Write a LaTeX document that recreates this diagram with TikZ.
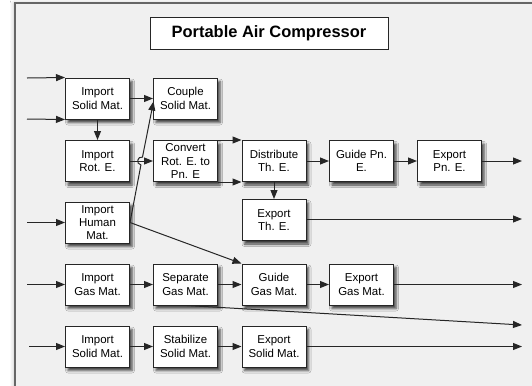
\documentclass[tikz,border=0pt]{standalone}
\usepackage{fontspec}
\setmainfont{Liberation Sans}
\usetikzlibrary{arrows.meta,calc,shadows.blur}
\begin{document}
\begin{tikzpicture}[x=1bp,y=-1bp,
  fbox/.style={draw=black!85,line width=1bp,fill=white,minimum width=64bp,minimum height=41bp,
    inner sep=0pt,align=center,font=\fontsize{11.5}{13.3}\selectfont,
    blur shadow={shadow xshift=2.5bp,shadow yshift=-3.5bp,shadow blur radius=2.5bp,shadow opacity=75}},
  titlebox/.style={draw=black!85,line width=1bp,fill=white,minimum width=238bp,minimum height=32bp,
    inner sep=0pt,font=\fontsize{16.5}{20}\selectfont\bfseries},
  arr/.style={draw=black!85,line width=1bp,-{Triangle[length=9bp,width=7bp]}},
]
\useasboundingbox (0,0) rectangle (532,385);
\fill[white] (0,0) rectangle (532,385);
\begin{scope}
\clip (0,0) rectangle (532,385);
\draw[draw=black!60,line width=1.5bp,fill=black!6,
  blur shadow={shadow xshift=-1bp,shadow yshift=0bp,shadow blur radius=4bp,shadow opacity=25}]
  (15,3) rectangle (545,400);
\end{scope}

\node[titlebox] (title) at (269,33) {Portable Air Compressor};

\node[fbox] (is1) at (97.5,98.5) {Import\\Solid Mat.};
\node[fbox] (cs) at (185.5,98.5) {Couple\\Solid Mat.};
\node[fbox] (ir) at (97.5,161) {Import\\Rot. E.};
\node[fbox] (cv) at (185.5,161) {Convert\\Rot. E. to\\Pn. E};
\node[fbox] (dt) at (274,161) {Distribute\\Th. E.};
\node[fbox] (gp) at (361.5,161) {Guide Pn.\\E.};
\node[fbox] (ep) at (449.5,161) {Export\\Pn. E.};
\node[fbox] (et) at (274,220) {Export\\Th. E.};
\node[fbox] (hm) at (97.5,222.5) {Import\\Human\\Mat.};
\node[fbox] (ig) at (97.5,284.5) {Import\\Gas Mat.};
\node[fbox] (sg) at (185.5,284.5) {Separate\\Gas Mat.};
\node[fbox] (gg) at (274,284.5) {Guide\\Gas Mat.};
\node[fbox] (eg) at (361.5,284.5) {Export\\Gas Mat.};
\node[fbox] (is2) at (97.5,346.5) {Import\\Solid Mat.};
\node[fbox] (st) at (185.5,346.5) {Stabilize\\Solid Mat.};
\node[fbox] (es) at (274,346.5) {Export\\Solid Mat.};

% free ends
\coordinate (in1) at (27,78);
\coordinate (in2) at (27,119);
\coordinate (in3) at (27,222.5);
\coordinate (in4) at (27,284.5);
\coordinate (in5) at (29,346.5);
\coordinate (out1) at (522,161);
\coordinate (out2) at (522,219);
\coordinate (out3) at (522,284.5);
\coordinate (out4) at (522,325);
\coordinate (out5) at (522,346.5);
\coordinate (cstip) at (153.5,101.5);
\coordinate (h1) at (140.92,164.92);
\coordinate (h2) at (142.48,157.08);

% inputs
\draw[arr] (in1) -- (is1.north west);
\draw[arr] (in2) -- (is1.south west);
\draw[arr] (in3) -- (hm.west);
\draw[arr] (in4) -- (ig.west);
\draw[arr] (in5) -- (is2.west);

% rows 1-3
\draw[arr] (is1.east) -- (cs.west);
\draw[arr] (is1.south) -- (ir.north);
\draw[arr] (ir.east) -- (cv.west);
\draw[arr] (hm.east) -- (h1) .. controls ($(h1)+(-5.23,-1.04)$) and ($(h2)+(-5.23,-1.04)$) .. (h2) -- (cstip);
\draw[arr] (cv.north east) -- (dt.north west);
\draw[arr] (cv.south east) -- (dt.south west);
\draw[arr] (dt.east) -- (gp.west);
\draw[arr] (gp.east) -- (ep.west);
\draw[arr] (ep.east) -- (out1);
\draw[arr] (dt.south) -- (et.north);
\draw[arr] ($(et.east)+(0,-1)$) -- (out2);

% human to guide gas
\draw[arr] (hm.east) -- (gg.north west);

% gas row
\draw[arr] (ig.east) -- (sg.west);
\draw[arr] (sg.east) -- (gg.west);
\draw[arr] (gg.east) -- (eg.west);
\draw[arr] (eg.east) -- (out3);
\draw[arr] ($(sg.south)+(1.5,0)$) -- (out4);

% solid row
\draw[arr] (is2.east) -- (st.west);
\draw[arr] (st.east) -- (es.west);
\draw[arr] (es.east) -- (out5);
\end{tikzpicture}
\end{document}
